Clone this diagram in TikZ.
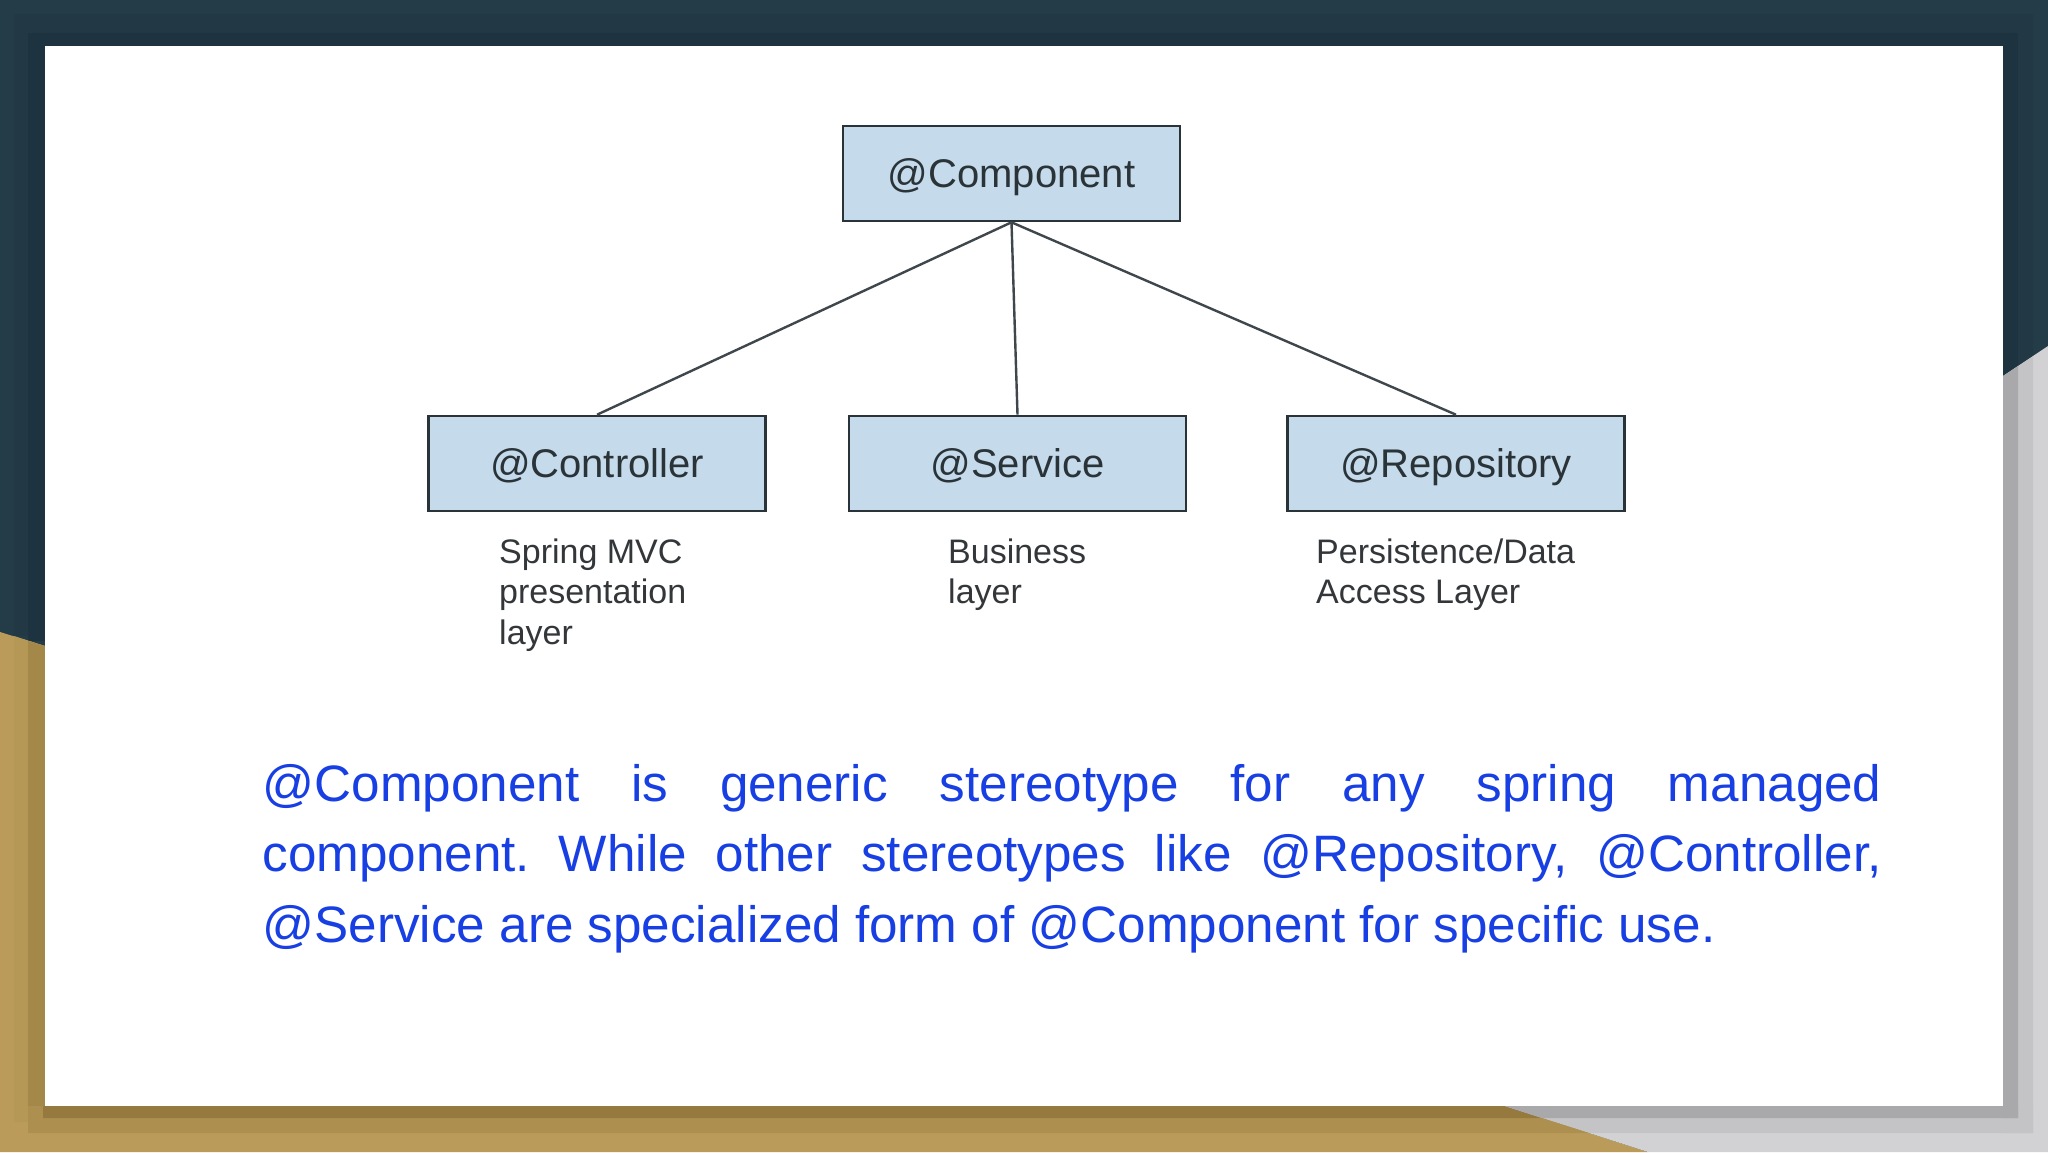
\documentclass[tikz,border=0pt]{standalone}
\usepackage{fontspec}
\setmainfont{Liberation Sans}
\definecolor{navy}{HTML}{243B48}
\definecolor{navyb}{HTML}{223844}
\definecolor{navyc}{HTML}{1D333F}
\definecolor{gold}{HTML}{BB9B59}
\definecolor{goldb}{HTML}{AD8F50}
\definecolor{goldc}{HTML}{96793F}
\definecolor{goldd}{HTML}{B69856}
\definecolor{golde}{HTML}{A38849}
\definecolor{greya}{HTML}{D2D2D4}
\definecolor{greyb}{HTML}{C4C4C6}
\definecolor{greyc}{HTML}{A9A9AB}
\definecolor{boxfill}{HTML}{C5DAEA}
\definecolor{boxline}{HTML}{2A3338}
\definecolor{bodyblue}{HTML}{173FE3}
\definecolor{captext}{HTML}{33373A}
\tikzset{
  compbox/.style={draw=boxline,line width=2.6pt,fill=boxfill,minimum width=337pt,minimum height=95pt,inner sep=0pt,text=boxline,text height=34pt,text depth=6pt,font=\fontsize{40}{46}\selectfont},
  captiontext/.style={anchor=north west,inner sep=0pt,align=left,text=captext,font=\fontsize{34}{40.5}\selectfont},
  linkline/.style={draw=boxline!90,line width=2.4pt}
}
\begin{document}
\begin{tikzpicture}[x=1pt,y=-1pt]
\useasboundingbox (0,0) rectangle (2048,1152);
\fill[navy] (0,0) rectangle (2048,1152);
% gold and grey corners
\fill[gold] (0,632) -- (45,646) -- (45,1106) -- (1505,1106) -- (1648,1152) -- (0,1152) -- cycle;
\fill[greya] (2003,376) -- (2048,346) -- (2048,1152) -- (1648,1152) -- (1505,1106) -- (2003,1106) -- cycle;
% navy shadow bands
\fill[navyb] (14,14) rectangle (2033,46);
\fill[navyb] (14,14) rectangle (45,636);
\fill[navyb] (2003,14) rectangle (2033,356);
\fill[navyb] (2003,356) -- (2033,356) -- (2003,376) -- cycle;
\fill[navyc] (28,33) rectangle (2018,46);
\fill[navyc] (28,33) rectangle (45,641);
\fill[navyc] (2003,33) rectangle (2018,366);
\fill[navyc] (2003,366) -- (2018,366) -- (2003,376) -- cycle;
% gold shadow bands
\fill[goldd] (14,636) -- (45,646) -- (45,1122) -- (14,1122) -- cycle;
\fill[golde] (28,641) -- (45,646) -- (45,1118) -- (28,1118) -- cycle;
\fill[goldb] (28,1106) -- (1505,1106) -- (1590,1133) -- (28,1133) -- cycle;
\fill[goldc] (43,1106) -- (1505,1106) -- (1542,1118) -- (43,1118) -- cycle;
% grey shadow bands
\fill[greyb] (1505,1106) -- (2033,1106) -- (2033,1133) -- (1590,1133) -- cycle;
\fill[greyb] (2003,376) -- (2033,356) -- (2033,1133) -- (2003,1133) -- cycle;
\fill[greyc] (1505,1106) -- (2018,1106) -- (2018,1118) -- (1542,1118) -- cycle;
\fill[greyc] (2003,376) -- (2018,366) -- (2018,1118) -- (2003,1118) -- cycle;
% slide
\fill[white] (45,46) rectangle (2003,1106);
% diagram
\node[compbox] (component) at (1011.5,173.5) {@Component};
\node[compbox] (controller) at (597,463.5) {@Controller};
\node[compbox] (service) at (1017.5,463.5) {@Service};
\node[compbox] (repository) at (1456,463.5) {@Repository};
\draw[linkline] (component.south) -- (controller.north);
\draw[linkline] (component.south) -- (service.north);
\draw[linkline] (component.south) -- (repository.north);
\node[captiontext] (capa) at (499,538.5) {Spring MVC\\presentation\\layer};
\node[captiontext] (capb) at (948,538.5) {Business\\layer};
\node[captiontext] (capc) at (1316,538.5) {Persistence/Data\\Access Layer};
\node[anchor=north west,inner sep=0pt,text=bodyblue] (body) at (262.5,764) {\parbox{1619pt}{\fontsize{51.2}{70.5}\selectfont\frenchspacing\hyphenpenalty=10000\parindent=0pt
@Component is generic stereotype for any spring managed\linebreak component. While other stereotypes like @Repository, @Controller,\linebreak @Service are specialized form of @Component for specific use.}};
\end{tikzpicture}
\end{document}
